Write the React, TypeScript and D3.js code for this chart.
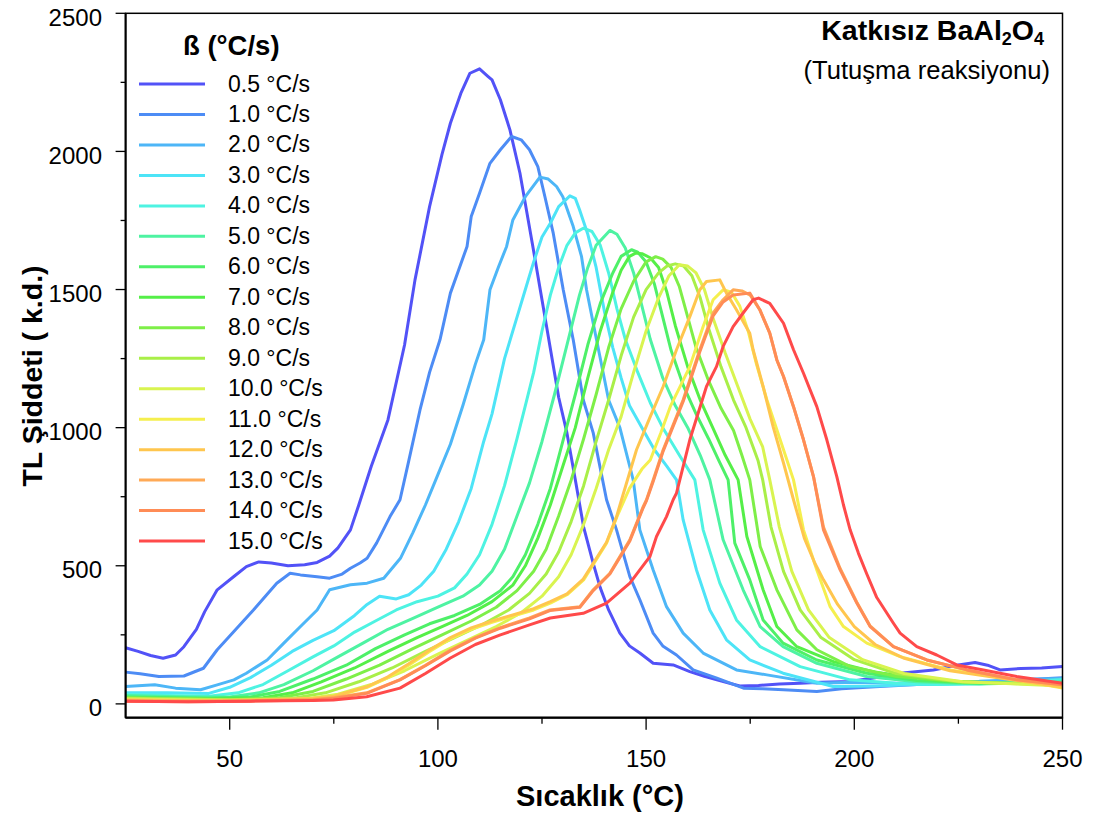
import React from "react";
import * as d3 from "d3";

const W = 1095;
const H = 816;

const LABELS = ["0.5 °C/s","1.0 °C/s","2.0 °C/s","3.0 °C/s","4.0 °C/s","5.0 °C/s","6.0 °C/s","7.0 °C/s","8.0 °C/s","9.0 °C/s","10.0 °C/s","11.0 °C/s","12.0 °C/s","13.0 °C/s","14.0 °C/s","15.0 °C/s"];
const COLORS = ["#5252f7","#4d8cf5","#4db6f7","#4de4f7","#4ef3e2","#4ef3a2","#4ef068","#55ef48","#7eef48","#a9ef48","#d9f450","#f5ef4e","#ffc64e","#ffaa56","#ff8c56","#ff4a4a"];

const X_TICKS = [50, 100, 150, 200, 250];
const X_MINOR = [75, 125, 175, 225];
const Y_TICKS = [0, 500, 1000, 1500, 2000, 2500];
const Y_MINOR = [250, 750, 1250, 1750, 2250];

const s05 = [[25,203],[28,190],[31,175],[34,165],[37,177],[39,207],[42,270],[44,334],[47,413],[51,461],[54,497],[57,514],[60,510],[64,500],[68,504],[71,512],[74,535],[76,565],[79,630],[81,720],[84,860],[88,1028],[92,1300],[94.5,1535],[98,1800],[101,1990],[103,2102],[105.5,2210],[107.7,2283],[110,2299],[112,2272],[113,2259],[115,2187],[117.3,2078],[119.7,1922],[122.8,1656],[126.1,1366],[129,1110],[131,980],[133,811],[135,640],[137.3,509],[139,420],[141,340],[143.7,256],[146,210],[148.5,184],[151.7,147],[156.5,141],[160.5,117],[164,100],[167,87],[172.5,65],[177,67],[182,72],[187,75],[192,78],[199,81],[205,95],[211,111],[219,123],[225,141],[229,150],[232,140],[235,123],[240,128],[245,130],[250,135]];
const s10 = [[25,115],[28.5,109],[33,99],[39,101],[43.7,129],[47,196],[51,262],[55.7,340],[58,380],[61.3,437],[64.5,473],[67,467],[71,460],[74,455],[77,470],[79,491],[81.3,510],[83,527],[85.3,583],[88.5,678],[90.9,739],[93,880],[95.7,1064],[98,1200],[100.5,1318],[103,1487],[107,1656],[108,1764],[110,1849],[112.5,1957],[115,2006],[117.7,2054],[120,2042],[122,2006],[124,1945],[125.7,1836],[127.7,1704],[130.1,1499],[132.5,1318],[134.9,1101],[137.3,981],[140.5,739],[142.9,630],[146.1,461],[148.5,377],[151.7,256],[154,210],[157.3,177],[161.3,123],[167,93],[173.4,57],[178,55],[183,51],[191,45],[197,55],[205,62],[215,70],[225,75],[235,80],[242,88],[250,95]];
const s20 = [[25,63],[32,69],[37,57],[43,51],[47,69],[51,87],[54,111],[59,159],[63,220],[67,280],[71,340],[74,413],[79,431],[83,437],[87,455],[91,527],[94,620],[97,720],[100,830],[103,940],[106,1080],[109,1230],[111,1318],[112.5,1499],[114.5,1580],[116.5,1656],[118,1752],[121,1836],[124.5,1907],[126.5,1900],[128.5,1873],[130,1836],[132.5,1728],[134.5,1619],[135.7,1499],[137.3,1378],[141,1100],[143.7,1000],[146.9,811],[148.5,630],[151.7,485],[154.9,352],[158.9,256],[163.7,184],[171.7,123],[179,105],[191,75],[200,78],[210,75],[220,80],[230,82],[240,88],[250,92]];
const s30 = [[25,40],[35,40],[45,38],[50,60],[55,95],[60,140],[65,190],[70,230],[75,265],[80,320],[83,360],[86,390],[90,380],[93,395],[96,430],[99,480],[102,560],[105,660],[108,780],[111,950],[113,1050],[116,1250],[119,1400],[121,1500],[123,1600],[125,1690],[127,1740],[129,1800],[131.7,1839],[133,1830],[134,1790],[136,1700],[138,1580],[140,1420],[142,1290],[144,1180],[146,1080],[149,1000],[152,920],[155,860],[157.3,811],[158.9,666],[162.1,485],[165.3,340],[169.3,232],[174.9,159],[182.9,111],[194.9,63],[205,65],[215,70],[225,72],[235,75],[250,85]];
const s40 = [[25,35],[35,30],[45,28],[52,40],[58,70],[64,120],[70,170],[75,210],[80,260],[85,300],[90,340],[95,370],[100,390],[104,420],[107,470],[110,540],[113,650],[116,790],[119,960],[121,1080],[123,1200],[125,1350],[127,1480],[129,1580],[131,1660],[133,1705],[134.9,1722],[137,1710],[139,1660],[141,1560],[143,1430],[145,1320],[148,1200],[151,1090],[154,1000],[158,900],[161.7,811],[163.7,630],[167.7,437],[171.7,304],[177.4,207],[187,135],[199,87],[210,75],[220,70],[235,75],[250,88]];
const s50 = [[25,30],[40,25],[50,25],[57,40],[63,70],[70,120],[76,170],[82,220],[88,270],[94,310],[100,350],[106,390],[110,430],[113,480],[116,560],[119,680],[122,800],[125,950],[128,1120],[131,1300],[134,1480],[136,1580],[138,1660],[141.3,1714],[143,1700],[145,1650],[147,1560],[149,1440],[151,1320],[154,1180],[157,1080],[160,1000],[163,900],[165.3,811],[168.5,594],[173.3,413],[177.4,280],[182.9,207],[191,147],[203,99],[215,80],[230,72],[250,80]];
const s60 = [[25,25],[45,20],[55,25],[62,45],[70,90],[78,140],[85,200],[92,250],[98,290],[104,320],[110,360],[115,410],[118,460],[121,540],[124,650],[127,780],[130,950],[133,1120],[136,1300],[139,1450],[142,1560],[144,1620],[146.5,1644],[148,1635],[150,1600],[152,1520],[154,1400],[156,1280],[159,1150],[162,1050],[165,960],[167.5,880],[169.7,811],[171.3,582],[174.9,449],[178.1,304],[182.9,220],[191,159],[203,111],[215,85],[230,75],[250,75]];
const s70 = [[25,20],[45,18],[58,22],[65,40],[72,80],[80,130],[88,190],[95,240],[101,280],[107,320],[113,370],[118,430],[121,500],[124,600],[127,720],[130,860],[133,1000],[136,1180],[139,1350],[142,1490],[144,1570],[146,1620],[147.5,1632],[149,1630],[151,1615],[153,1580],[155,1490],[157,1370],[160,1220],[163,1100],[166,1000],[169,900],[172.1,811],[174.2,606],[178.1,413],[181.4,280],[186.2,207],[195,153],[205,115],[220,85],[235,75],[250,72]];
const s80 = [[25,22],[50,15],[62,22],[70,45],[78,90],[86,140],[94,200],[101,250],[108,300],[114,350],[119,410],[123,480],[126,560],[129,680],[132,810],[135,960],[138,1120],[141,1290],[144,1430],[147,1530],[150,1600],[152.3,1619],[154,1610],[156,1580],[158,1510],[160,1400],[162,1290],[165,1170],[168,1070],[171,990],[173,900],[174.9,811],[177.4,570],[181.4,413],[186.2,268],[191,196],[199,135],[210,100],[225,80],[250,70]];
const s90 = [[25,20],[50,15],[65,20],[73,40],[81,80],[89,130],[97,190],[104,240],[111,290],[117,340],[122,400],[126,470],[129,550],[132,660],[135,790],[138,950],[141,1100],[144,1260],[147,1400],[150,1500],[153,1560],[155,1585],[157,1593],[159,1585],[161,1550],[163,1470],[165,1360],[168,1220],[171,1100],[174,1000],[176.9,880],[178,811],[180,640],[183,480],[187,340],[192,240],[200,160],[210,110],[225,80],[250,68]];
const s100 = [[25,18],[50,12],[68,18],[76,35],[84,70],[92,120],[100,180],[107,230],[114,280],[120,330],[125,390],[129,460],[132,540],[135,650],[138,780],[141,920],[144,1040],[147,1200],[150,1350],[153,1470],[155.5,1550],[158,1590],[160,1585],[162,1560],[164,1500],[166,1400],[169,1270],[172,1150],[175,1030],[178,930],[179.7,811],[182,640],[185,480],[189,340],[194,240],[202,160],[212,110],[226,80],[250,65]];
const s110 = [[25,12],[40,10],[55,12],[70,18],[75,26],[83,60],[88,95],[93,140],[98,190],[103,235],[108,270],[113,295],[118,318],[123,340],[127,365],[131,395],[135,449],[140.5,582],[143,678],[146,780],[149,850],[151,883],[153.5,980],[155.8,1076],[160.5,1221],[163.7,1366],[166.1,1463],[168.5,1499],[170.5,1490],[172.5,1440],[174.5,1350],[176.5,1230],[179,1101],[183,920],[185.4,811],[187.8,630],[191,485],[194.2,352],[197.4,280],[203,220],[211,171],[223,123],[239,87],[250,57]];
const s120 = [[25,15],[40,12],[55,14],[70,20],[75,28],[83,62],[88,98],[93,145],[98,195],[103,240],[108,275],[113,300],[118,322],[123,345],[127,370],[131,398],[134.9,452],[140.5,585],[142.9,678],[144.1,739],[147.7,920],[151,1040],[154.1,1149],[157.3,1282],[160.5,1402],[162.9,1499],[164.5,1529],[167.7,1535],[169.3,1487],[171.7,1427],[174.9,1342],[175.7,1282],[178.1,1149],[180.5,1004],[183,872],[185.4,739],[188,600],[190.5,510],[192.6,449],[196,360],[200,280],[205,215],[212,165],[223,120],[239,85],[250,60]];
const s130 = [[25,12],[40,10],[55,12],[70,16],[74.9,22],[82.9,40],[90.9,88],[97,140],[103,195],[109,240],[115,276],[122,311],[126.9,340],[134.1,352],[137.3,413],[141.3,473],[146.1,594],[149.3,714],[150.1,739],[151.7,811],[154.1,920],[158.9,1101],[162.9,1282],[166.1,1415],[168.5,1463],[170.9,1499],[173,1495],[175,1480],[177.3,1427],[179.7,1342],[181.4,1245],[183,1185],[185.4,1076],[187.8,956],[190.2,823],[192.6,640],[196.6,490],[200.6,368],[203.8,282],[209.4,207],[217.4,159],[227,123],[239,87],[250,69]];
const s140 = [[25,10],[40,8],[55,10],[70,14],[74.9,20],[82.9,38],[90.9,87],[97,138],[103,192],[109,238],[115,274],[122,308],[126.9,338],[134.1,350],[137.3,410],[141.3,470],[146.1,590],[149.3,710],[150.1,736],[151.7,805],[154.1,915],[158.9,1095],[162.9,1275],[166.1,1405],[168.5,1455],[170.9,1480],[174.9,1487],[177.3,1427],[179.7,1342],[181.4,1245],[183,1185],[185.4,1076],[187.8,956],[190.2,823],[192.6,630],[196.6,485],[200.6,365],[203.8,280],[209.4,207],[217.4,159],[227,123],[239,87],[250,69]];
const s150 = [[25,10],[40,8],[55,10],[70,12],[74.9,14],[82.9,26],[90.9,57],[97,110],[103,166],[109,215],[115,250],[122,286],[127,311],[134.9,328],[140.5,365],[146.1,437],[150.9,533],[152.5,606],[154.9,678],[156.5,739],[157.3,763],[160.5,956],[164.5,1149],[166.9,1221],[168.5,1294],[170.9,1366],[173.3,1415],[175.7,1463],[177,1469],[179.7,1450],[183,1378],[185.4,1282],[187.8,1197],[191,1076],[193.4,956],[195.8,823],[197.4,720],[199,630],[201,545],[203,470],[205.4,385],[209.4,292],[211,256],[215,207],[219.8,177],[224.6,141],[231,123],[239,99],[250,75]];

const SERIES = [s05, s10, s20, s30, s40, s50, s60, s70, s80, s90, s100, s110, s120, s130, s140, s150];

const FONT = "Arial, 'Liberation Sans', Helvetica, sans-serif";

export default function App() {
  const x = d3.scaleLinear().domain([25, 250]).range([125.6, 1062.5]);
  const y = d3.scaleLinear().domain([-50, 2500]).range([717.7, 13.3]);
  const line = d3.line<number[]>().x(d => x(d[0])).y(d => y(d[1])).curve(d3.curveLinear);
  const [x0, x1] = x.range();
  const [yb, yt] = y.range();
  const legendY = (i: number) => 84 + i * 30.47;

  return (
    <svg width={W} height={H} viewBox={`0 0 ${W} ${H}`} style={{ position: "absolute", left: 0, top: 0, background: "#fff" }} fontFamily={FONT}>
      <defs>
        <clipPath id="plot"><rect x={x0} y={yt} width={x1 - x0} height={yb - yt} /></clipPath>
      </defs>
      <rect x={0} y={0} width={W} height={H} fill="#fff" />
      <g clipPath="url(#plot)" fill="none" strokeWidth={3} strokeLinejoin="round" strokeLinecap="round">
        {SERIES.map((s, i) => (
          <path key={i} d={line(s as any) || ""} stroke={COLORS[i]} />
        ))}
      </g>
      {/* frame */}
      <rect x={x0} y={yt} width={x1 - x0} height={yb - yt} fill="none" stroke="#000" strokeWidth={1.5} />
      <line x1={x0} x2={x0} y1={yt} y2={yb} stroke="#000" strokeWidth={2} />
      <line x1={x0} x2={x1} y1={yb} y2={yb} stroke="#000" strokeWidth={2.2} />
      {/* x ticks */}
      {X_TICKS.map(t => (
        <g key={t}>
          <line x1={x(t)} x2={x(t)} y1={yb} y2={yb + 12} stroke="#000" strokeWidth={1.3} />
          <text x={x(t)} y={767} textAnchor="middle" fontSize={24}>{t}</text>
        </g>
      ))}
      {X_MINOR.map(t => (
        <line key={t} x1={x(t)} x2={x(t)} y1={yb} y2={yb + 6} stroke="#000" strokeWidth={1.3} />
      ))}
      {/* y ticks */}
      {Y_TICKS.map(t => (
        <g key={t}>
          <line x1={x0 - 10} x2={x0} y1={y(t)} y2={y(t)} stroke="#000" strokeWidth={1.3} />
          <text x={102} y={y(t) + 12.5} textAnchor="end" fontSize={24}>{t}</text>
        </g>
      ))}
      {Y_MINOR.map(t => (
        <line key={t} x1={x0 - 5} x2={x0} y1={y(t)} y2={y(t)} stroke="#000" strokeWidth={1.3} />
      ))}
      {/* axis titles */}
      <text x={600} y={806} textAnchor="middle" fontSize={29} fontWeight="bold">Sıcaklık (°C)</text>
      <text transform="translate(42,376) rotate(-90)" textAnchor="middle" fontSize={28.5} fontWeight="bold">TL Şiddeti ( k.d.)</text>
      {/* title */}
      <text x={1044} y={40} textAnchor="end" fontSize={28.5} fontWeight="bold">
        Katkısız BaAl<tspan fontSize={18} dy={5}>2</tspan><tspan dy={-5}>O</tspan><tspan fontSize={18} dy={5}>4</tspan>
      </text>
      <text x={1050} y={79} textAnchor="end" fontSize={25.6}>(Tutuşma reaksiyonu)</text>
      {/* legend */}
      <text x={183} y={55} fontSize={27.5} fontWeight="bold">ß (°C/s)</text>
      {LABELS.map((l, i) => (
        <g key={l}>
          <line x1={139} x2={205} y1={legendY(i)} y2={legendY(i)} stroke={COLORS[i]} strokeWidth={3} />
          <text x={228} y={legendY(i) + 7.5} fontSize={23}>{l}</text>
        </g>
      ))}
    </svg>
  );
}
